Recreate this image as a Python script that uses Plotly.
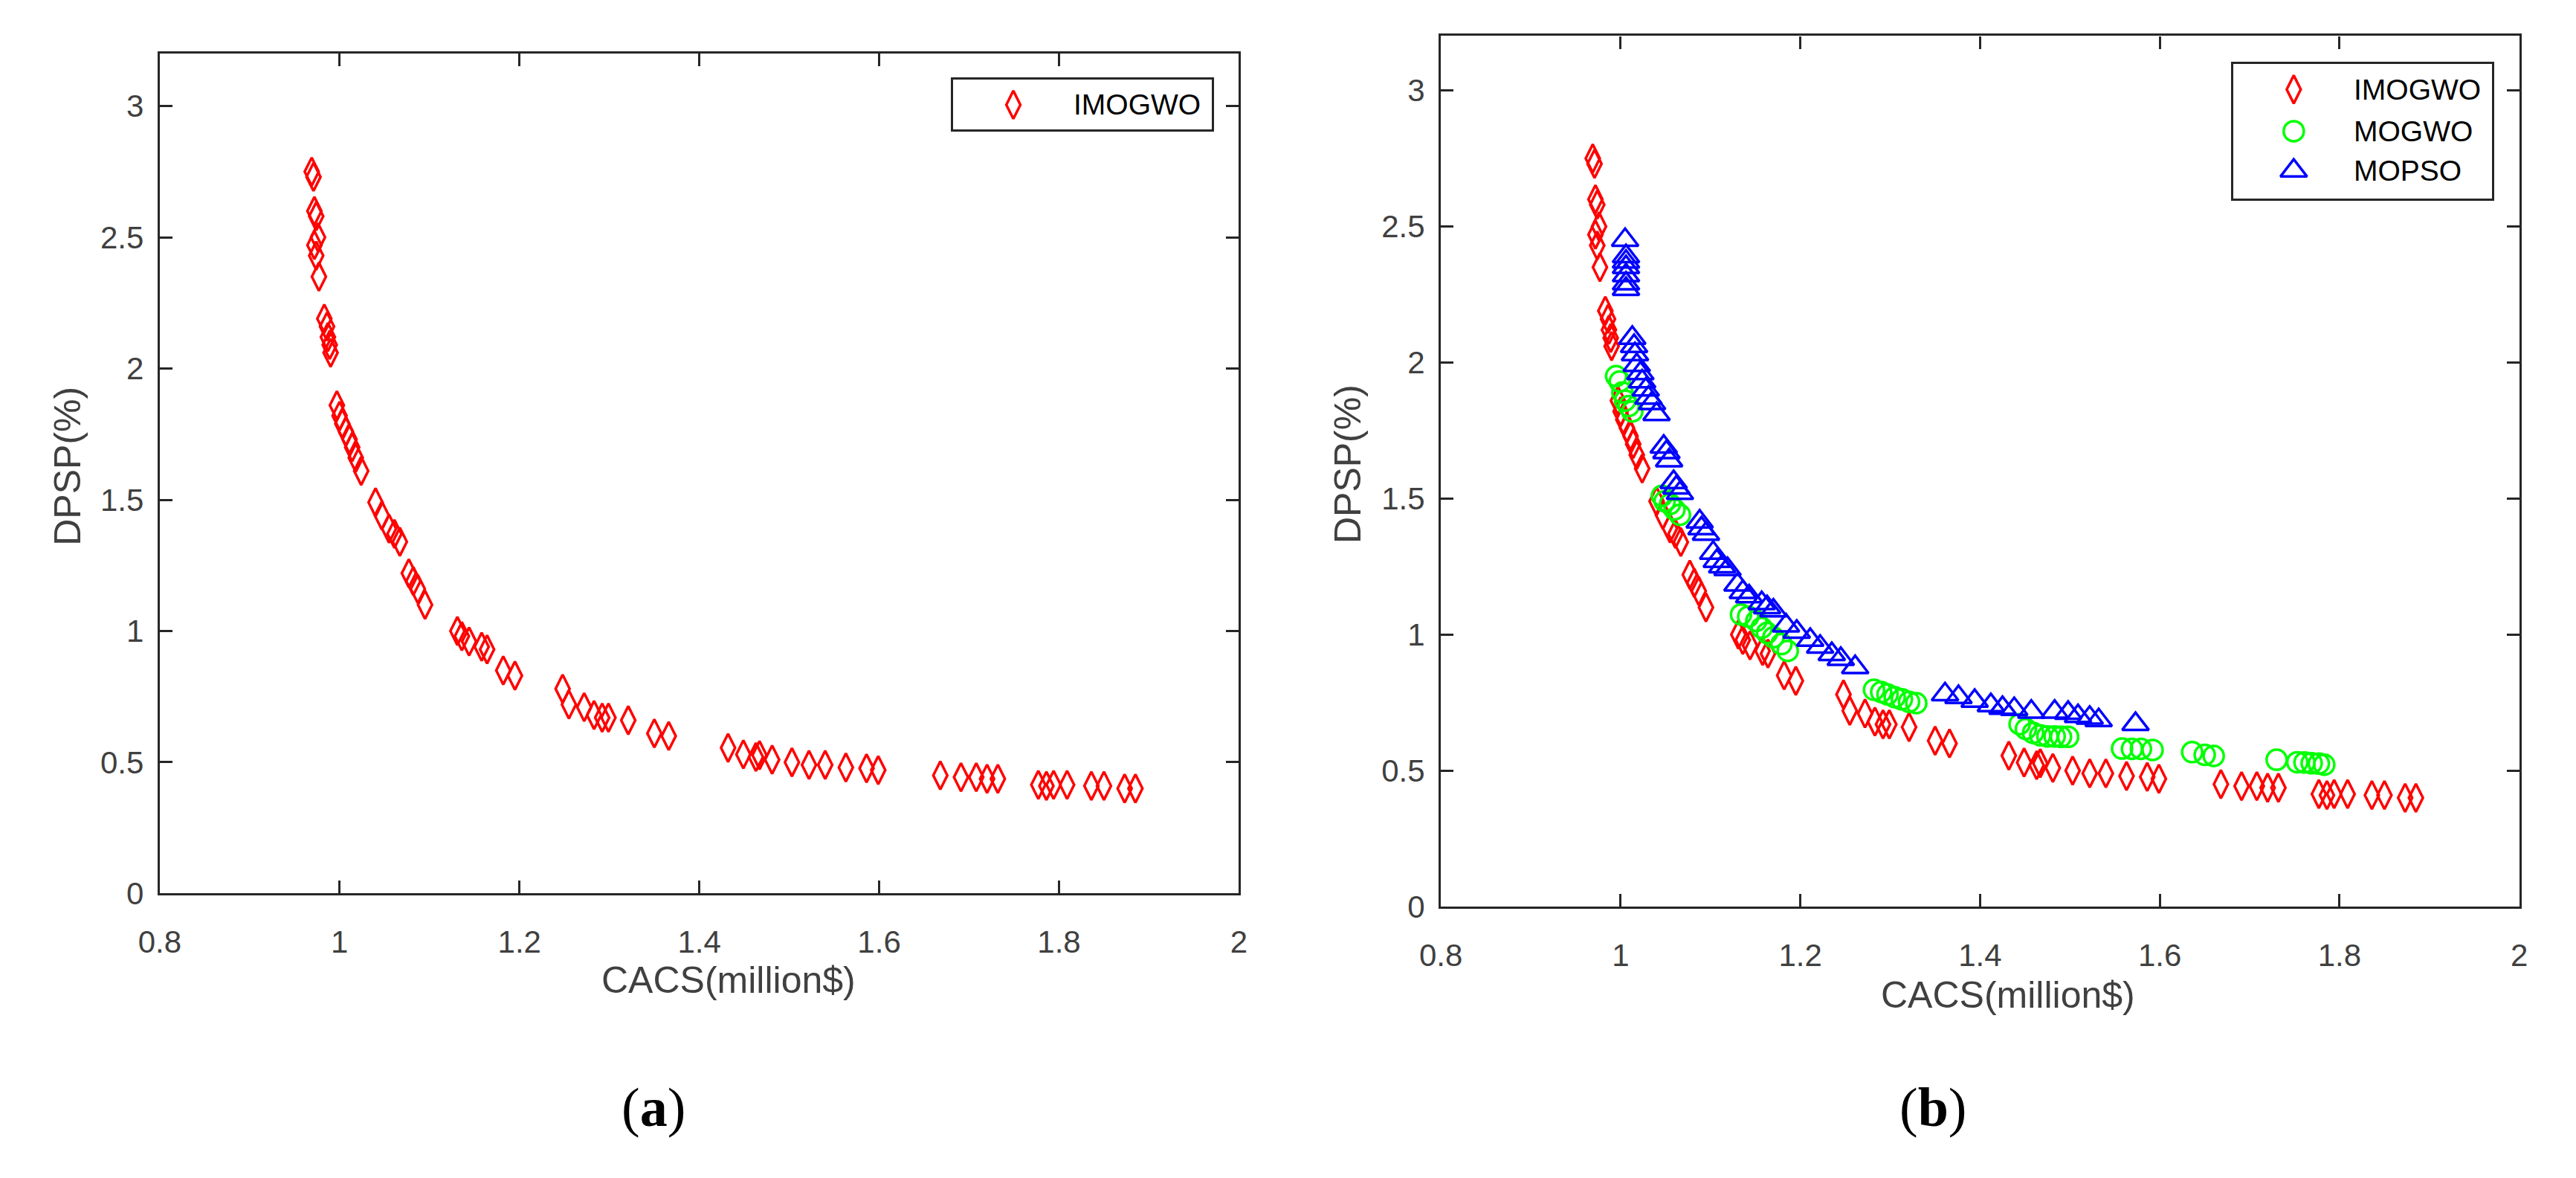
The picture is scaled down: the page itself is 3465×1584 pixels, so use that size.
import plotly.graph_objects as go

# ---------------- data ----------------
imogwo_x = [0.969, 0.971, 0.972, 0.974, 0.976, 0.972, 0.974, 0.977, 0.983, 0.986,
            0.987, 0.989, 0.990, 0.997, 1.000, 1.003, 1.007, 1.011, 1.014, 1.018,
            1.024, 1.040, 1.047, 1.055, 1.061, 1.067, 1.077, 1.082, 1.087, 1.095,
            1.131, 1.136, 1.144, 1.158, 1.164, 1.182, 1.195, 1.248, 1.255, 1.272,
            1.283, 1.292, 1.299, 1.321, 1.350, 1.366, 1.432, 1.449, 1.463, 1.467,
            1.481, 1.503, 1.522, 1.540, 1.563, 1.586, 1.599, 1.668, 1.691, 1.708,
            1.720, 1.732, 1.777, 1.786, 1.794, 1.809, 1.836, 1.850, 1.873, 1.885]
imogwo_y = [2.75, 2.73, 2.60, 2.58, 2.50, 2.47, 2.43, 2.35, 2.19, 2.16,
            2.12, 2.09, 2.06, 1.86, 1.82, 1.79, 1.76, 1.73, 1.70, 1.66,
            1.61, 1.49, 1.44, 1.39, 1.37, 1.34, 1.22, 1.19, 1.16, 1.10,
            1.00, 0.98, 0.96, 0.94, 0.93, 0.85, 0.83, 0.78, 0.72, 0.71,
            0.68, 0.67, 0.67, 0.66, 0.61, 0.60, 0.555, 0.53, 0.52, 0.527,
            0.51, 0.50, 0.49, 0.49, 0.48, 0.477, 0.47, 0.45, 0.443, 0.443,
            0.437, 0.437, 0.414, 0.41, 0.414, 0.414, 0.41, 0.41, 0.40, 0.40]

mogwo_x = [0.995, 0.999, 1.002, 1.005, 1.009, 1.013,
           1.046, 1.049, 1.055, 1.060, 1.066,
           1.134, 1.142, 1.151, 1.157, 1.163, 1.170, 1.179, 1.186,
           1.282, 1.290, 1.297, 1.305, 1.313, 1.321, 1.329,
           1.444, 1.451, 1.459, 1.467, 1.475, 1.483, 1.490, 1.498,
           1.558, 1.569, 1.579, 1.592,
           1.636, 1.650, 1.660,
           1.730, 1.753, 1.761, 1.769, 1.777, 1.783]
mogwo_y = [1.95, 1.93, 1.89, 1.86, 1.84, 1.82,
           1.51, 1.49, 1.48, 1.46, 1.44,
           1.074, 1.066, 1.05, 1.025, 1.006, 0.99, 0.965, 0.94,
           0.797, 0.789, 0.78, 0.77, 0.762, 0.753, 0.748,
           0.671, 0.653, 0.639, 0.630, 0.626, 0.626, 0.624, 0.624,
           0.581, 0.580, 0.580, 0.576,
           0.568, 0.558, 0.554,
           0.540, 0.531, 0.530, 0.527, 0.526, 0.522]

mopso_x = [1.005, 1.006, 1.006, 1.006, 1.006, 1.006, 1.006,
           1.013, 1.015, 1.016, 1.018, 1.022, 1.024, 1.028, 1.031, 1.035, 1.040,
           1.048, 1.051, 1.054, 1.059, 1.062, 1.066,
           1.088, 1.090, 1.095, 1.103, 1.107, 1.113, 1.119,
           1.130, 1.136, 1.143, 1.157, 1.163, 1.170, 1.184, 1.196, 1.211, 1.222,
           1.235, 1.245, 1.261,
           1.361, 1.376, 1.394, 1.412, 1.425, 1.438, 1.457, 1.483, 1.498, 1.509,
           1.522, 1.532, 1.573]
mopso_y = [2.45, 2.39, 2.37, 2.35, 2.32, 2.29, 2.27,
           2.09, 2.06, 2.03, 1.99, 1.96, 1.93, 1.90, 1.87, 1.85, 1.81,
           1.69, 1.67, 1.64, 1.56, 1.54, 1.52,
           1.415, 1.39, 1.37, 1.30, 1.27, 1.25, 1.24,
           1.183, 1.156, 1.14, 1.115, 1.10, 1.088, 1.033, 1.01, 0.98, 0.955,
           0.928, 0.91, 0.88,
           0.78, 0.77, 0.756, 0.74, 0.73, 0.726, 0.716, 0.716, 0.712, 0.70,
           0.694, 0.685, 0.671]

x_ticks = [0.8, 1.0, 1.2, 1.4, 1.6, 1.8, 2.0]
x_tick_labels = ["0.8", "1", "1.2", "1.4", "1.6", "1.8", "2"]
y_ticks = [0, 0.5, 1.0, 1.5, 2.0, 2.5, 3.0]
y_tick_labels = ["0", "0.5", "1", "1.5", "2", "2.5", "3"]

series_names = ["IMOGWO", "MOGWO", "MOPSO"]

# ---------------- styling ----------------
PAGE_W, PAGE_H = 3465, 1584
BODY_MARGIN = 8          # default browser body margin
W, H = PAGE_W - 2 * BODY_MARGIN, PAGE_H - 2 * BODY_MARGIN
RED, GREEN, BLUE = "rgb(255,0,0)", "rgb(0,255,0)", "rgb(0,0,255)"
AXC = "#262626"
TXC = "#404040"
FONT = "Liberation Sans, Arial, Helvetica, sans-serif"
SERIF = "Liberation Serif, Times New Roman, serif"


def px_x(p):
    return (p - BODY_MARGIN) / W


def px_y(p):
    return 1 - (p - BODY_MARGIN) / H


sym = {"IMOGWO": ("diamond-tall-open", 27, RED),
       "MOGWO": ("circle-open", 27, GREEN),
       "MOPSO": ("triangle-up-open", 31, BLUE)}

fig = go.Figure()


def add_series(name, xs, ys, xa, ya):
    s, size, c = sym[name]
    fig.add_trace(go.Scatter(
        x=xs, y=ys, mode="markers", name=name, showlegend=False,
        xaxis=xa, yaxis=ya, hoverinfo="skip",
        marker=dict(symbol=s, size=size, color=c, line=dict(width=3.5, color=c))))


# panel (a)
add_series("IMOGWO", imogwo_x, imogwo_y, "x", "y")
# panel (b)
add_series("IMOGWO", imogwo_x, imogwo_y, "x2", "y2")
add_series("MOGWO", mogwo_x, mogwo_y, "x2", "y2")
add_series("MOPSO", mopso_x, mopso_y, "x2", "y2")

common_x = dict(range=[0.8, 2.0], tickvals=x_ticks, ticktext=x_tick_labels,
                showline=True, linecolor=AXC, linewidth=3.3, mirror="allticks",
                ticks="inside", ticklen=17, tickwidth=3, tickcolor=AXC,
                showgrid=False, zeroline=False, ticklabelstandoff=26,
                tickfont=dict(family=FONT, size=42, color=TXC))
common_y = dict(range=[0, 3.2], tickvals=y_ticks, ticktext=y_tick_labels,
                showline=True, linecolor=AXC, linewidth=3.3, mirror="allticks",
                ticks="inside", ticklen=17, tickwidth=3, tickcolor=AXC,
                showgrid=False, zeroline=False, ticklabelstandoff=10,
                tickfont=dict(family=FONT, size=42, color=TXC))

# legend boxes drawn as small axes: (left, top, right, bottom) in page pixels
leg_a_box = (1268, 109, 1620, 177)
leg_b_box = (3011, 87, 3363, 271)


def leg_axes(box):
    l, t, r, b = box
    xa = dict(domain=[px_x(l), px_x(r)], range=[0, r - l], showline=True, mirror=True,
              linecolor=AXC, linewidth=2.7, showticklabels=False, ticks="",
              showgrid=False, zeroline=False, fixedrange=True)
    ya = dict(domain=[px_y(b), px_y(t)], range=[b - t, 0], showline=True, mirror=True,
              linecolor=AXC, linewidth=2.7, showticklabels=False, ticks="",
              showgrid=False, zeroline=False, fixedrange=True)
    return xa, ya


xa3, ya3 = leg_axes(leg_a_box)
xa4, ya4 = leg_axes(leg_b_box)

fig.update_layout(
    width=W, height=H, margin=dict(l=0, r=0, t=0, b=0),
    paper_bgcolor="white", plot_bgcolor="white", showlegend=False,
    xaxis=dict(domain=[px_x(188), px_x(1657)], anchor="y", **common_x),
    yaxis=dict(domain=[px_y(1220), px_y(73)], anchor="x", **common_y),
    xaxis2=dict(domain=[px_x(1932), px_x(3400)], anchor="y2", **common_x),
    yaxis2=dict(domain=[px_y(1238), px_y(49)], anchor="x2", **common_y),
    xaxis3=dict(anchor="y3", **xa3), yaxis3=dict(anchor="x3", **ya3),
    xaxis4=dict(anchor="y4", **xa4), yaxis4=dict(anchor="x4", **ya4),
)

# legend keys
leg_marker_x = 82
leg_text_x = 162
leg_a_rows = [34]
leg_b_rows = [35, 92, 146]


def add_legend(names, rows, xa, ya):
    for name, ry in zip(names, rows):
        s, size, c = sym[name]
        fig.add_trace(go.Scatter(
            x=[leg_marker_x], y=[ry], mode="markers", showlegend=False,
            xaxis=xa, yaxis=ya, hoverinfo="skip",
            marker=dict(symbol=s, size=size, color=c, line=dict(width=3.5, color=c))))
        fig.add_annotation(x=leg_text_x, y=ry, xref=xa, yref=ya, text=name,
                           showarrow=False, xanchor="left", yanchor="middle",
                           font=dict(family=FONT, size=39, color="black"))


add_legend(series_names[:1], leg_a_rows, "x3", "y3")
add_legend(series_names, leg_b_rows, "x4", "y4")


# axis titles and panel labels
def ann(text, x, y, size, angle=0, family=FONT, color=TXC):
    fig.add_annotation(x=px_x(x), y=px_y(y), xref="paper", yref="paper", text=text,
                       showarrow=False, xanchor="center", yanchor="middle",
                       textangle=angle, font=dict(family=family, size=size, color=color))


ann("CACS(million$)", 962, 1338, 50)
ann("CACS(million$)", 2704, 1359, 50)
ann("DPSP(%)", 63, 636, 50, angle=-90)
ann("DPSP(%)", 1806, 634, 50, angle=-90)
ann("(<b>a</b>)", 860, 1512, 74, family=SERIF, color="black")
ann("(<b>b</b>)", 2602, 1512, 74, family=SERIF, color="black")

fig.write_html("out.html", config={"displayModeBar": False})
